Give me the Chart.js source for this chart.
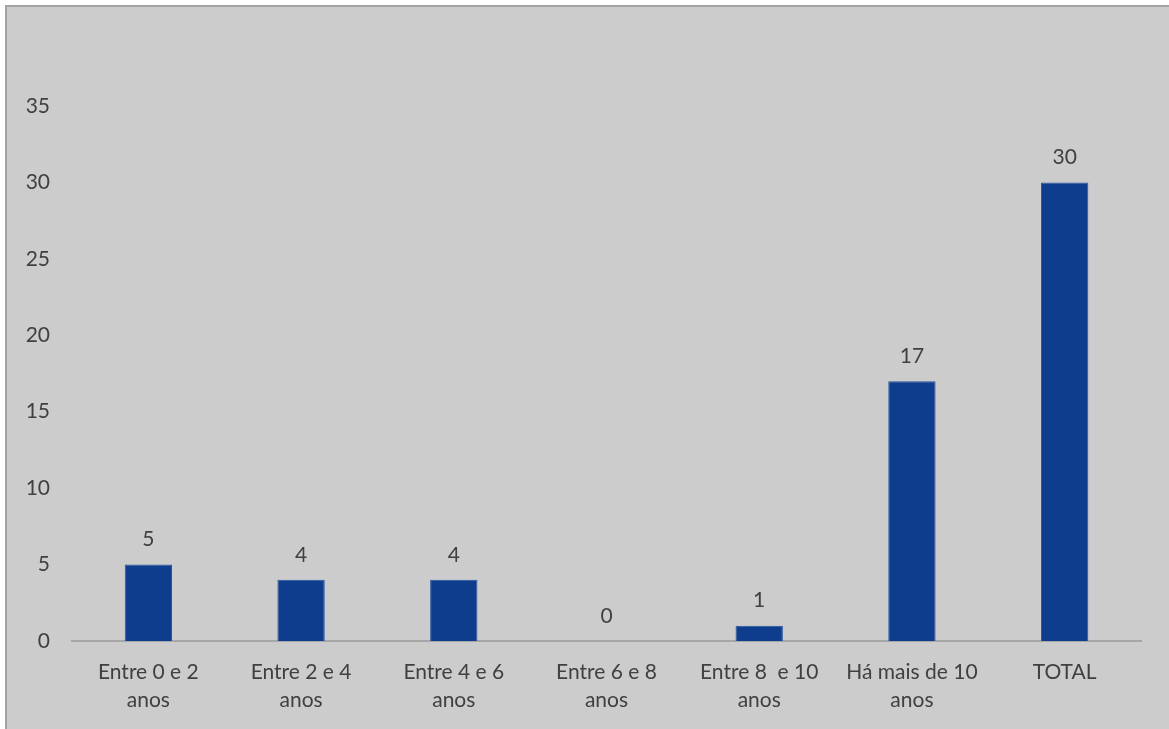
<!DOCTYPE html>
<html>
<head>
<meta charset="utf-8">
<script src="https://cdn.jsdelivr.net/npm/chart.js@4"></script>
<style>
    html, body { margin: 0; padding: 0; background: #ffffff; }
    #frame {
        position: absolute; left: 5px; top: 5px;
        width: 1170px; height: 730px;
        background: #cccccc;
        border: 2px solid #a3a3a3;
    }
    #wrap { position: absolute; left: 0; top: 0; width: 1169px; height: 729px; }
</style>
</head>
<body>
<div id="frame"></div>
<div id="wrap"><canvas id="chart"></canvas></div>
<script>
const categories = [
    ['Entre 0 e 2', 'anos'],
    ['Entre 2 e 4', 'anos'],
    ['Entre 4 e 6', 'anos'],
    ['Entre 6 e 8', 'anos'],
    ['Entre 8  e 10', 'anos'],
    ['Há mais de 10', 'anos'],
    ['TOTAL'],
];
const values = [5, 4, 4, 0, 1, 17, 30];
const yTicks = [0, 5, 10, 15, 20, 25, 30, 35];

const textColor = '#404040';
const fontFamily = 'Lato, "Open Sans", sans-serif';

// simple value labels above each bar
const valueLabels = {
    id: 'valueLabels',
    afterDatasetsDraw(chart) {
        const ctx = chart.ctx;
        const meta = chart.getDatasetMeta(0);
        ctx.save();
        ctx.fillStyle = textColor;
        ctx.font = '21px ' + fontFamily;
        ctx.textAlign = 'center';
        ctx.textBaseline = 'middle';
        meta.data.forEach((bar, i) => {
            ctx.fillText(String(values[i]), bar.x, bar.y - 25);
        });
        ctx.restore();
    }
};

new Chart(document.getElementById('chart'), {
    type: 'bar',
    data: {
        labels: categories,
        datasets: [{
            data: values,
            backgroundColor: '#0f3d8e',
            borderColor: '#2a55a0',
            borderWidth: 1,
            categoryPercentage: 1,
            barPercentage: 0.31,
        }]
    },
    options: {
        responsive: true,
        maintainAspectRatio: false,
        animation: false,
        layout: { padding: { top: 106, right: 28, bottom: 0, left: 0 } },
        plugins: {
            legend: { display: false },
            tooltip: { enabled: false },
        },
        scales: {
            x: {
                grid: { display: false },
                border: { display: true, color: '#a6a6a6', width: 2 },
                ticks: {
                    color: textColor,
                    font: { family: fontFamily, size: 21, lineHeight: 1.35 },
                    padding: 9,
                    maxRotation: 0,
                    autoSkip: false,
                },
                afterFit(scale) { scale.height = 88; },
            },
            y: {
                min: 0,
                max: 35,
                grid: { display: false },
                border: { display: false },
                afterBuildTicks(scale) { scale.ticks = yTicks.map(v => ({ value: v })); },
                ticks: {
                    color: textColor,
                    font: { family: fontFamily, size: 21 },
                    padding: 14,
                },
                afterFit(scale) { scale.width = 72; },
            }
        }
    },
    plugins: [valueLabels]
});
</script>
</body>
</html>
